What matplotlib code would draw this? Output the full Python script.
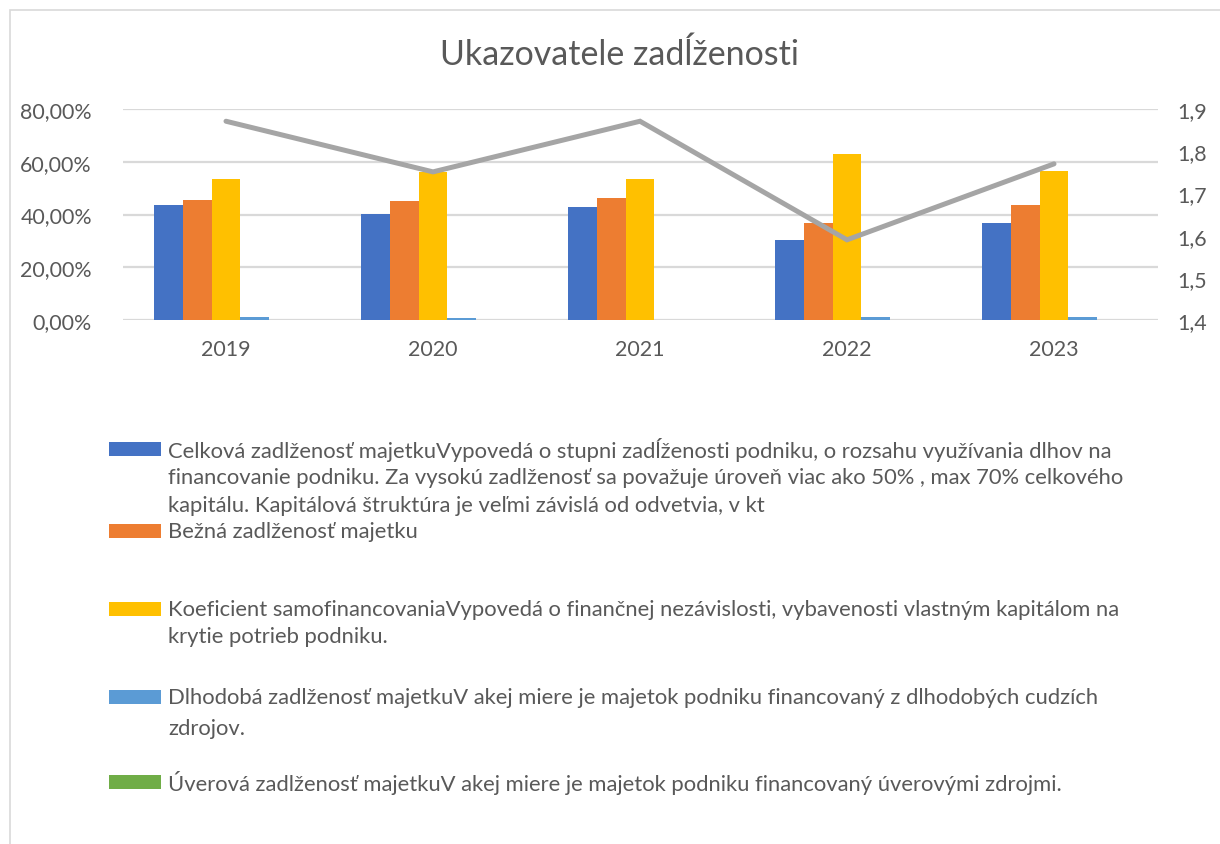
import matplotlib.pyplot as plt
from matplotlib.patches import Rectangle
import numpy as np

# data
years = ["2019", "2020", "2021", "2022", "2023"]
celkova = [0.436, 0.402, 0.427, 0.303, 0.369]
bezna = [0.456, 0.452, 0.464, 0.369, 0.435]
samofin = [0.536, 0.562, 0.536, 0.631, 0.565]
dlhodoba = [0.011, 0.007, 0.0, 0.010, 0.010]
uverova = [0.0, 0.0, 0.0, 0.0, 0.0]
line_vals = [1.871, 1.751, 1.871, 1.590, 1.770]

colors = ["#4472C4", "#ED7D31", "#FFC000", "#5B9BD5", "#70AD47"]
legend_lines = [
    ["Celková zadlženosť majetkuVypovedá o stupni zadĺženosti podniku, o rozsahu využívania dlhov na",
     "financovanie podniku. Za vysokú zadlženosť sa považuje úroveň viac ako 50% , max 70% celkového",
     "kapitálu. Kapitálová štruktúra je veľmi závislá od odvetvia, v kt"],
    ["Bežná zadlženosť majetku"],
    ["Koeficient samofinancovaniaVypovedá o finančnej nezávislosti, vybavenosti vlastným kapitálom na",
     "krytie potrieb podniku."],
    ["Dlhodobá zadlženosť majetkuV akej miere je majetok podniku financovaný z dlhodobých cudzích",
     "zdrojov."],
    ["Úverová zadlženosť majetkuV akej miere je majetok podniku financovaný úverovými zdrojmi."],
]
# pixel rows of each legend entry's lines
legend_rows = [[450, 478, 506], [532], [610, 637], [698, 729], [783]]

W, H = 1220, 845
FONT = "Lato"
TXT = "#595959"
GRID = "#d9d9d9"

fig = plt.figure(figsize=(W / 100, H / 100), dpi=100)
fig.patch.set_facecolor("white")

# chart border (only top and left visible in the reference)
fig.add_artist(Rectangle((10 / W, -0.1), 1.2, 1 - 11 / H + 0.1, transform=fig.transFigure,
                         fill=False, edgecolor=GRID, lw=1.2))

left, right, top, bottom = 122.5, 1157.5, 110, 321
ax = fig.add_axes([left / W, 1 - bottom / H, (right - left) / W, (bottom - top) / H])

series = [celkova, bezna, samofin, dlhodoba, uverova]
x = np.arange(len(years))
bw = 0.14
for i, vals in enumerate(series):
    ax.bar(x + (i - 2) * bw, vals, width=bw, color=colors[i], zorder=3)

ax.set_xlim(-0.5, len(years) - 0.5)
ax.set_ylim(0, 0.8)
ax.set_yticks(np.arange(0, 0.81, 0.2))
ax.set_yticklabels([f"{v * 100:.2f}%".replace(".", ",") for v in np.arange(0, 0.81, 0.2)])
ax.set_xticks(x)
ax.set_xticklabels(years)
ax.yaxis.grid(True, color=GRID, lw=1.6, zorder=0)
for s in ax.spines.values():
    s.set_visible(False)
ax.tick_params(axis="both", length=0, colors=TXT, labelsize=15.4)
ax.tick_params(axis="y", pad=22)
ax.tick_params(axis="x", pad=14)
for lab in ax.get_xticklabels() + ax.get_yticklabels():
    lab.set_fontfamily(FONT)

ax2 = ax.twinx()
ax2.plot(x, line_vals, color="#A5A5A5", lw=3.6, solid_capstyle="round",
         solid_joinstyle="miter", zorder=4)
ax2.set_ylim(1.4, 1.9)
ax2.set_yticks(np.arange(1.4, 1.91, 0.1))
ax2.set_yticklabels([f"{v:.1f}".replace(".", ",") for v in np.arange(1.4, 1.91, 0.1)])
for s in ax2.spines.values():
    s.set_visible(False)
ax2.tick_params(axis="y", length=0, colors=TXT, labelsize=15.4, pad=14)
for lab in ax2.get_yticklabels():
    lab.set_fontfamily(FONT)

fig.text(620 / W, 1 - 55 / H, "Ukazovatele zadĺženosti", ha="center", va="center",
         fontsize=24.5, color=TXT, family=FONT)

# legend drawn by hand, Excel style
for c, lines, rows in zip(colors, legend_lines, legend_rows):
    y0 = rows[0]
    fig.add_artist(Rectangle((109 / W, 1 - (y0 + 7) / H), 52 / W, 14 / H,
                             transform=fig.transFigure, color=c, lw=0))
    for txt, yy in zip(lines, rows):
        fig.text(168 / W, 1 - yy / H, txt, ha="left", va="center", fontsize=15.8,
                 color=TXT, family=FONT)

fig.savefig("out.png", dpi=100, facecolor="white")
